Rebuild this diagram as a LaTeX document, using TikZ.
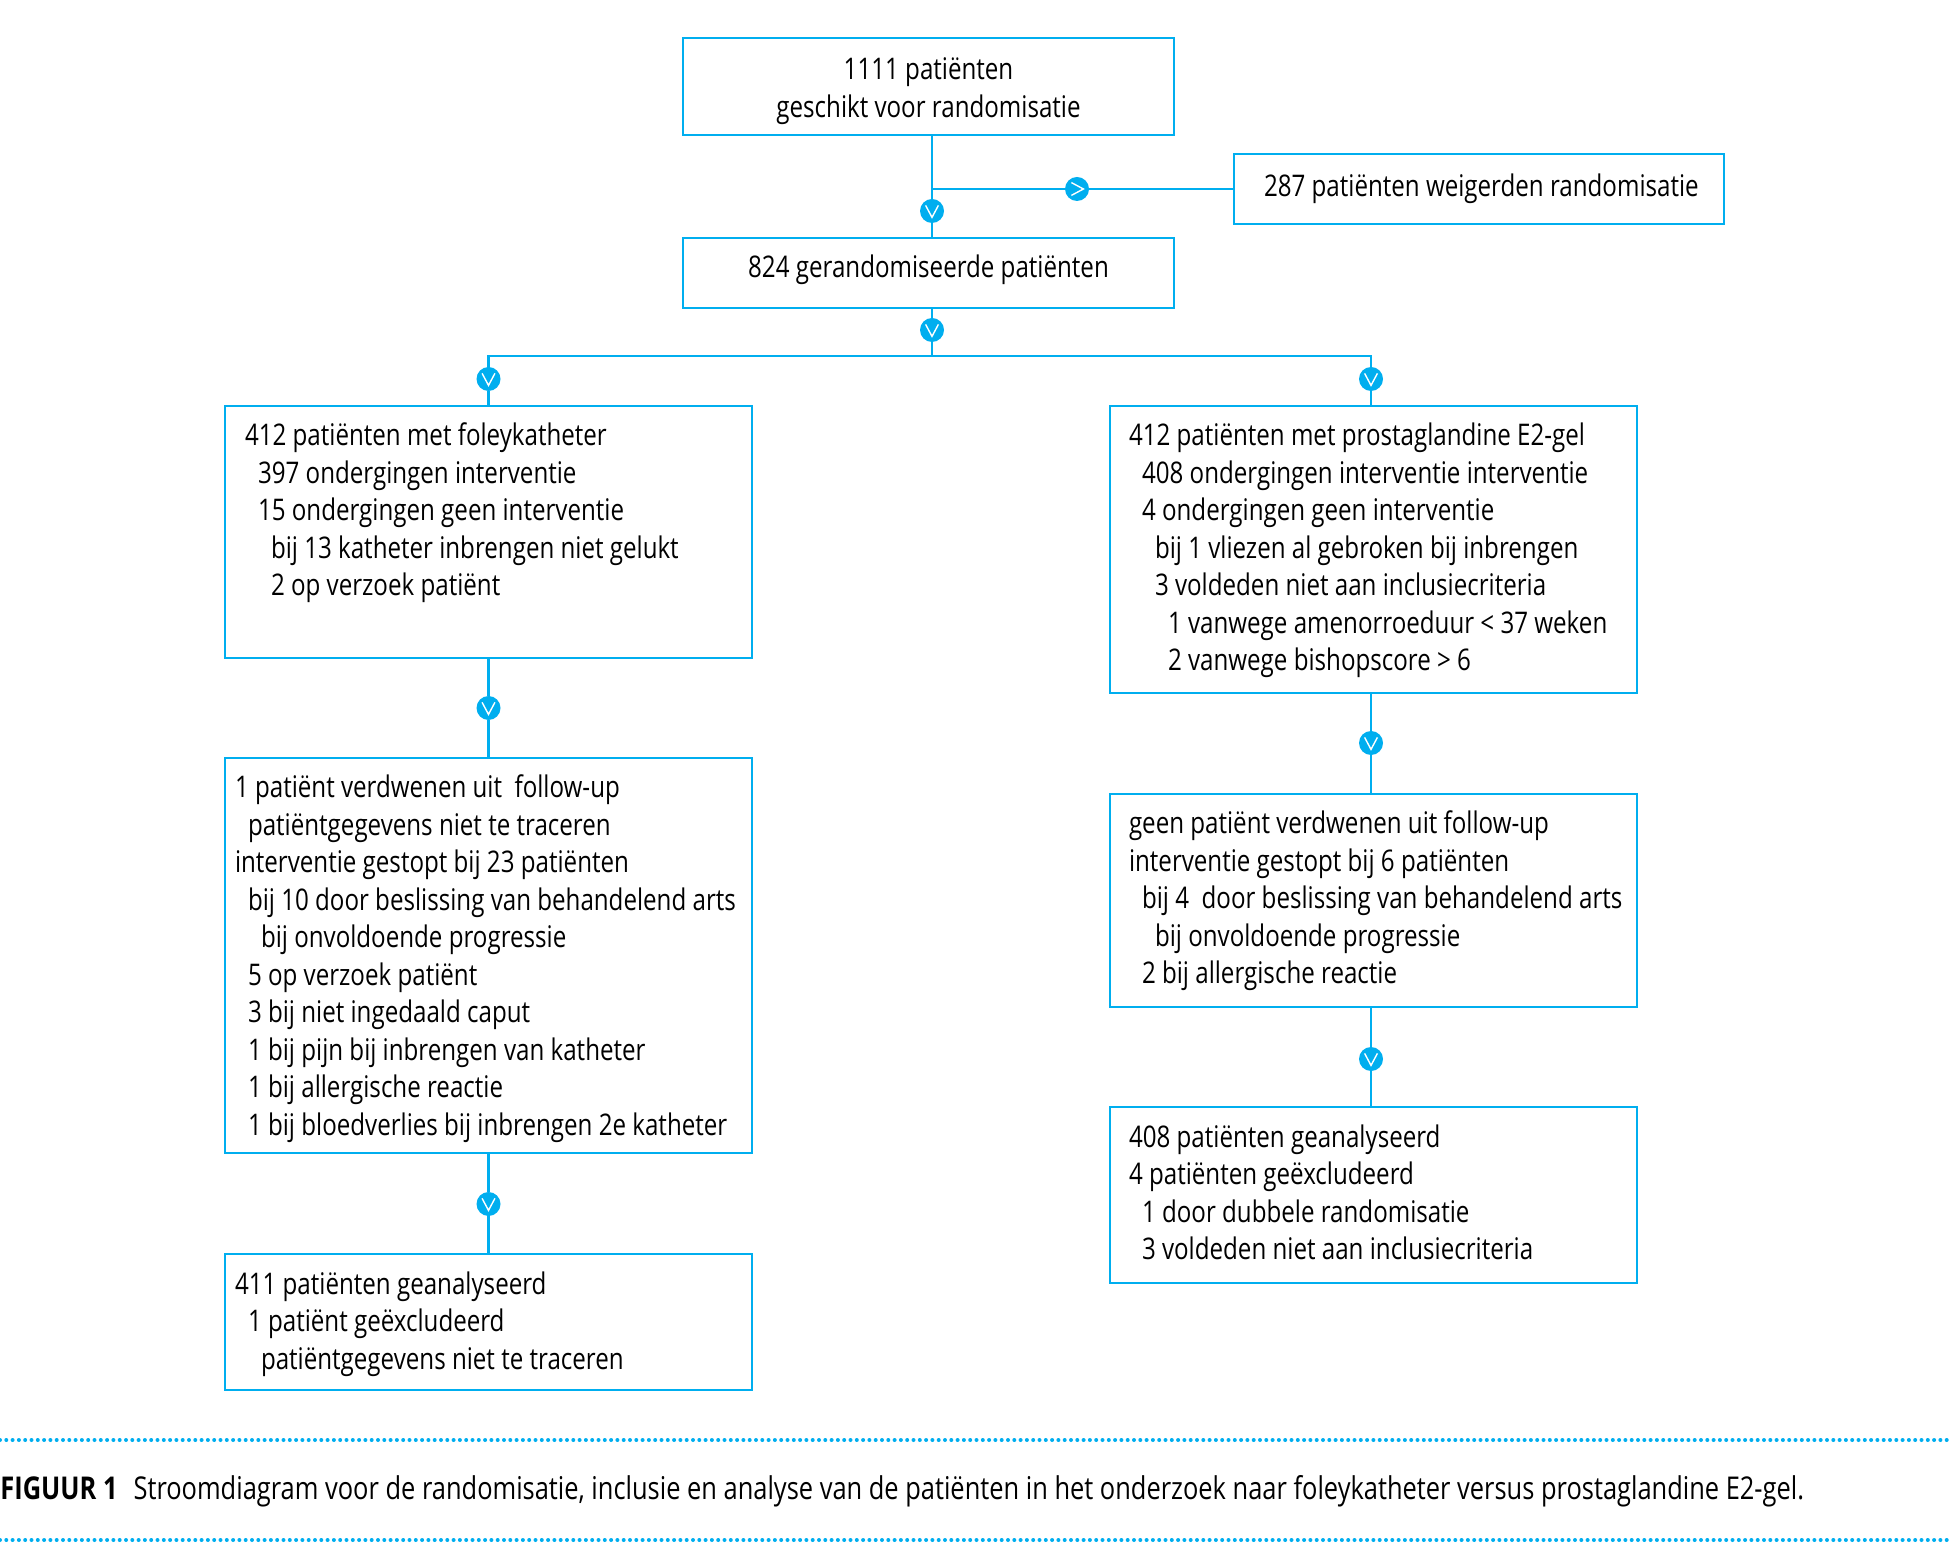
\documentclass[tikz,border=0pt]{standalone}
\usepackage{fontspec}
\setmainfont[FakeStretch=0.81,WordSpace=1.0]{Open Sans}
\usetikzlibrary{calc}
\definecolor{flowblue}{HTML}{00AEEF}
\newcommand{\indA}{\hspace*{6.5pt}}
\newcommand{\indB}{\hspace*{13pt}}
\newcommand{\indC}{\hspace*{19.5pt}}
\tikzset{
  flowbox/.style={draw=flowblue,line width=1.3pt,outer sep=0pt,anchor=north west,inner ysep=0pt,
    text height=20pt,font=\fontsize{14.9}{18.75}\selectfont,align=flush left},
  widebox/.style={flowbox,inner xsep=10pt,text width=243.5pt},
  gelbox/.style={flowbox,inner xsep=9.5pt,text width=244.5pt},
  narrowbox/.style={flowbox,inner xsep=5pt,text width=253.5pt},
  topbox/.style={flowbox,inner xsep=0pt,text width=245.5pt,align=flush center},
  flowline/.style={flowblue,line width=1.3pt},
  stepmark/.style={circle,fill=flowblue,inner sep=0pt,minimum size=12pt,outer sep=0pt},
  downmark/.style={stepmark,path picture={
    \draw[white,line width=0.7pt] ($(path picture bounding box.center)+(-3.2pt,2.8pt)$) -- ++(3.2pt,-6pt) -- ++(3.2pt,6pt);}},
  rightmark/.style={stepmark,path picture={
    \draw[white,line width=0.7pt] ($(path picture bounding box.center)+(-2.8pt,3.2pt)$) -- ++(6pt,-3.2pt) -- ++(-6pt,-3.2pt);}},
  dotrule/.style={flowblue,line width=2pt,line cap=round,dash pattern=on 0pt off 3.15pt},
}
\begin{document}
\begin{tikzpicture}[x=0.5pt,y=-0.5pt]
  \useasboundingbox (0,0) rectangle (1949,1550);
  % top of the flow
  \node[topbox,text height=21pt,text depth=27.5pt] (eligible) at (683,38)
    {1111 patiënten\\geschikt voor randomisatie};
  \node[topbox,text depth=15pt] (randomised) at (683,238)
    {824 gerandomiseerde patiënten};
  \node[flowbox,inner xsep=15pt,text width=215pt,text height=21.5pt,text depth=13.5pt] (refused) at (1234,154)
    {\mbox{287 patiënten weigerden randomisatie}};
  % left arm
  \node[widebox,text depth=106pt] (foleyA) at (225,406)
    {412 patiënten met foleykatheter\\
     \indA 397 ondergingen interventie\\
     \indA 15 ondergingen geen interventie\\
     \indB bij 13 katheter inbrengen niet gelukt\\
     \indB 2 op verzoek patiënt};
  \node[narrowbox,text depth=177.5pt] (foleyB) at (225,758)
    {1 patiënt verdwenen uit\ \ follow-up\\
     \indA patiëntgegevens niet te traceren\\
     interventie gestopt bij 23 patiënten\\
     \indA bij 10 door beslissing van behandelend arts\\
     \indB bij onvoldoende progressie\\
     \indA 5 op verzoek patiënt\\
     \indA 3 bij niet ingedaald caput\\
     \indA 1 bij pijn bij inbrengen van katheter\\
     \indA 1 bij allergische reactie\\
     \indA 1 bij bloedverlies bij inbrengen 2e katheter};
  \node[narrowbox,text depth=48pt] (foleyC) at (225,1254)
    {411 patiënten geanalyseerd\\
     \indA 1 patiënt geëxcludeerd\\
     \indB patiëntgegevens niet te traceren};
  % right arm
  \node[gelbox,text depth=123.5pt] (gelA) at (1110,406)
    {412 patiënten met prostaglandine E2-gel\\
     \indA 408 ondergingen interventie interventie\\
     \indA 4 ondergingen geen interventie\\
     \indB bij 1 vliezen al gebroken bij inbrengen\\
     \indB 3 voldeden niet aan inclusiecriteria\\
     \indC 1 vanwege amenorroeduur < 37 weken\\
     \indC 2 vanwege bishopscore > 6};
  \node[gelbox,text depth=86.5pt] (gelB) at (1110,794)
    {geen patiënt verdwenen uit follow-up\\
     interventie gestopt bij 6 patiënten\\
     \mbox{\indA bij 4\ \ door beslissing van behandelend arts}\\
     \indB bij onvoldoende progressie\\
     \indA 2 bij allergische reactie};
  \node[gelbox,text depth=68pt] (gelC) at (1110,1107)
    {408 patiënten geanalyseerd\\
     4 patiënten geëxcludeerd\\
     \indA 1 door dubbele randomisatie\\
     \indA 3 voldeden niet aan inclusiecriteria};
  % round marks on the lines
  \node[downmark] (markA) at (932,211) {};
  \node[rightmark] (markB) at (1077,189) {};
  \node[downmark] (markC) at (932,330) {};
  \node[downmark] (markD) at (488.5,379) {};
  \node[downmark] (markE) at (1371,379) {};
  \node[downmark] (markF) at (488.5,708) {};
  \node[downmark] (markG) at (488.5,1204) {};
  \node[downmark] (markH) at (1371,743) {};
  \node[downmark] (markI) at (1371,1059) {};
  \coordinate (split) at (932,189);
  \coordinate (branch) at (932,356);
  % connectors
  \draw[flowline] (markA |- eligible.south) -- (markA);
  \draw[flowline] (markA) -- (markA |- randomised.north);
  \draw[flowline] (split) -- (markB);
  \draw[flowline] (markB) -- (refused);
  \draw[flowline] (markC |- randomised.south) -- (markC);
  \draw[flowline] (markC) -- (branch);
  \draw[flowline] (markD) |- (branch);
  \draw[flowline] (branch) -| (markE);
  \draw[flowline] (markD) -- (foleyA);
  \draw[flowline] (markE) -- (markE |- gelA.north);
  \draw[flowline] (foleyA) -- (markF);
  \draw[flowline] (markF) -- (foleyB);
  \draw[flowline] (foleyB) -- (markG);
  \draw[flowline] (markG) -- (foleyC);
  \draw[flowline] (markH |- gelA.south) -- (markH);
  \draw[flowline] (markH) -- (markH |- gelB.north);
  \draw[flowline] (markI |- gelB.south) -- (markI);
  \draw[flowline] (markI) -- (markI |- gelC.north);
  % caption between dotted rules
  \draw[dotrule] (0,1440) -- (1949,1440);
  \draw[dotrule] (0,1540) -- (1949,1540);
  \node[anchor=base west,inner sep=0pt,font=\fontsize{15.7}{18}\selectfont] (caption) at (0,1499)
    {\textbf{FIGUUR 1}\hspace{8pt}Stroomdiagram voor de randomisatie, inclusie en analyse van de patiënten in het onderzoek naar foleykatheter versus prostaglandine E2-gel.};
\end{tikzpicture}
\end{document}
